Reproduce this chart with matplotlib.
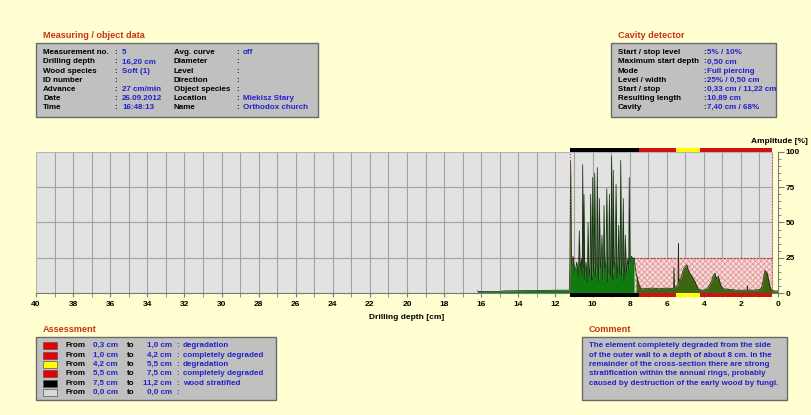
import numpy as np
import matplotlib
matplotlib.use("Agg")
import matplotlib.pyplot as plt
from matplotlib.patches import Rectangle
from matplotlib.ticker import MultipleLocator, FuncFormatter

plt.rcParams['font.family'] = ['Liberation Sans', 'DejaVu Sans']
plt.rcParams['font.weight'] = 'bold'
plt.rcParams['hatch.linewidth'] = 0.7

# ---------------- data ----------------
depth_cm = [16.20, 16.15, 15.00, 14.80, 13.00, 11.80, 11.25,
            11.22, 11.18, 11.14, 11.05, 10.95, 10.85, 10.76, 10.71, 10.67, 10.60,
            10.55, 10.53, 10.50, 10.46, 10.42, 10.35, 10.28, 10.24, 10.20, 10.14,
            10.10, 10.06, 10.03, 9.99, 9.95, 9.91, 9.88, 9.84, 9.78, 9.74,
            9.70, 9.66, 9.63, 9.58, 9.53, 9.49, 9.45, 9.41, 9.38, 9.33,
            9.27, 9.23, 9.18, 9.13, 9.09, 9.04, 9.00, 8.97, 8.93, 8.90,
            8.88, 8.84, 8.78, 8.73, 8.68, 8.63, 8.59, 8.55, 8.51, 8.48,
            8.44, 8.39, 8.34, 8.30, 8.26, 8.23, 8.18, 8.10, 8.05, 8.02,
            7.98, 7.90, 7.82, 7.76, 7.65, 7.50, 7.38, 7.20,
            6.80, 6.40, 6.00, 5.70, 5.63, 5.61, 5.58, 5.45, 5.39, 5.37,
            5.35, 5.20, 5.10, 4.98, 4.92, 4.85, 4.75, 4.65, 4.55, 4.47,
            4.38, 4.29, 4.10, 3.90, 3.76, 3.60, 3.50, 3.40, 3.32, 3.22,
            3.10, 2.95, 2.60, 2.20, 1.80, 1.67, 1.65, 1.63, 1.30, 1.00,
            0.88, 0.80, 0.74, 0.70, 0.64, 0.58, 0.50, 0.44, 0.39, 0.33,
            0.20, 0.00]
amplitude_pct = [1.5, 1.0, 1.0, 1.5, 1.8, 2.0, 2.0,
                 22, 94, 20, 26, 14, 22, 12, 44, 16, 24,
                 12, 91, 18, 70, 10, 22, 8, 50, 18, 12,
                 70, 16, 9, 82, 14, 22, 85, 12, 20, 89,
                 16, 8, 67, 18, 24, 41, 10, 20, 62, 14,
                 24, 74, 8, 18, 70, 12, 20, 97, 16, 10,
                 87, 18, 24, 77, 10, 20, 48, 14, 22, 94,
                 12, 20, 67, 8, 18, 41, 14, 24, 16, 82,
                 22, 26, 24, 25, 14, 6, 3, 3,
                 3.5, 3, 3.5, 3, 4, 18, 4, 5, 6, 35,
                 8, 12, 17, 19, 20, 17, 14, 12, 10, 8,
                 5, 2.5, 2, 2.5, 4, 8, 12, 14, 10, 12,
                 6, 3, 2.5, 2, 2, 2, 5, 2, 2, 2.5,
                 4, 9, 14, 16, 15, 14, 9, 5, 3, 2,
                 1.5, 1.5]

# assessment
assess_from = [0.3, 1.0, 4.2, 5.5, 7.5, 0.0]
assess_to = [1.0, 4.2, 5.5, 7.5, 11.2, 0.0]
assess_desc = ["degradation", "completely degraded", "degradation",
               "completely degraded", "wood stratified", ""]
assess_colors = ["#E80000", "#E80000", "#FFFF00", "#E80000", "#000000", "#D8D8D8"]

# cavity detector
cavity_start = 11.22
cavity_stop = 0.33
cavity_length = 7.40
cavity_level = 25

meas_labels = ["Measurement no.", "Drilling depth", "Wood species", "ID number",
               "Advance", "Date", "Time"]
meas_values = ["5", "16,20 cm", "Soft (1)", "", "27 cm/min", "26.09.2012", "16:48:13"]
obj_labels = ["Avg. curve", "Diameter", "Level", "Direction", "Object species",
              "Location", "Name"]
obj_values = ["off", "", "", "", "", "Miekisz Stary", "Orthodox church"]
cav_labels = ["Start / stop level", "Maximum start depth", "Mode", "Level / width",
              "Start / stop", "Resulting length", "Cavity"]
cav_values = ["5% / 10%", "0,50 cm", "Full piercing", "25% / 0,50 cm",
              "0,33 cm / 11,22 cm", "10,89 cm", "7,40 cm / 68%"]
comment_lines = ["The element completely degraded from the side",
                 "of the outer wall to a depth of about 8 cm. In the",
                 "remainder of the cross-section there are strong",
                 "stratification within the annual rings, probably",
                 "caused by destruction of the early wood by fungi."]

# ---------------- figure ----------------
W, H = 811, 415
BG = "#FFFFD2"
TITLE_C = "#CC3311"
VAL_C = "#2222CC"
FS = 5.8

fig = plt.figure(figsize=(W / 100, H / 100), dpi=100, facecolor=BG)


def px(x, y):
    return (x / W, 1 - y / H)


def box(x0, y0, x1, y1):
    fig.patches.append(Rectangle(px(x0, y1), (x1 - x0) / W, (y1 - y0) / H,
                                 transform=fig.transFigure, facecolor="#C0C0C0",
                                 edgecolor="#6A6A6A", lw=1.0, zorder=0))


def txt(x, y, s, color="black", ha="left", size=FS):
    fig.text(*px(x, y), s, color=color, ha=ha, va="center", fontsize=size,
             fontweight="bold")


# axes
ax = fig.add_axes([36 / W, 1 - 293 / H, (778 - 36) / W, 141 / H])
ax.set_xlim(40, 0)
ax.set_ylim(0, 100)
ax.patch.set_alpha(0)

gray_end = assess_from[0]
ax.add_patch(Rectangle((gray_end, 0), 40 - gray_end, 100, facecolor="#E2E2E2",
                       edgecolor="#B4B4B4", lw=0.8, zorder=0))
ax.vlines(np.arange(1, 40), 0, 100, color="#A2A2A2", lw=0.8, zorder=0.5)
ax.hlines([25, 50, 75], gray_end, 40, color="#A2A2A2", lw=0.8, zorder=0.5)

# cavity hatch
ax.add_patch(Rectangle((cavity_stop, 0), cavity_length, cavity_level,
                       facecolor="#F7DCDC", edgecolor="#E39C9C", hatch="xxxxxx",
                       lw=0, zorder=1))
ax.hlines(cavity_level, cavity_stop, cavity_start, color="#A33A3A", lw=0.8,
          linestyles=(0, (2, 1)), zorder=1.5)

d = np.array(depth_cm)
a = np.array(amplitude_pct)
split = cavity_stop + cavity_length
ax.fill_between(d, 0, a, where=d >= split - 0.05, color="#0F7A0F", lw=0, zorder=2)
ax.fill_between(d, 0, a, where=d <= split, color="#3D6512", lw=0, zorder=2)
ax.plot(d, a, color="#1C2E12", lw=0.55, zorder=3)

ax.vlines([cavity_start, cavity_stop], 0, 100, color="#D24A4A", lw=0.8,
          linestyles=":", zorder=4)

# assessment bars top and bottom
trans = ax.get_xaxis_transform()
for f, t, c in zip(assess_from, assess_to, assess_colors):
    if t - f <= 0:
        continue
    col = "#CC1414" if c == "#E80000" else c
    for yb in (1.0, -0.03):
        ax.add_patch(Rectangle((f, yb), t - f, 0.03, transform=trans,
                               facecolor=col, edgecolor="none", clip_on=False,
                               zorder=5))

# spines / ticks
ax.spines["left"].set_visible(False)
ax.spines["top"].set_visible(False)
ax.spines["bottom"].set_color("#7A7A7A")
ax.spines["right"].set_color("#7A7A7A")
ax.xaxis.set_major_locator(MultipleLocator(2))
ax.xaxis.set_minor_locator(MultipleLocator(1))
ax.xaxis.set_major_formatter(FuncFormatter(lambda v, p: f"{int(round(v))}"))
ax.tick_params(axis="x", which="both", direction="out", length=3,
               color="#7A7A7A", labelsize=6.0, pad=3)
ax.yaxis.tick_right()
ax.set_yticks([0, 25, 50, 75, 100])
ax.yaxis.set_minor_locator(MultipleLocator(5))
ax.tick_params(axis="y", which="major", direction="out", length=4,
               color="#7A7A7A", labelsize=6.0, pad=1.5)
ax.tick_params(axis="y", which="minor", direction="out", length=2,
               color="#7A7A7A")
ax.set_xlabel("Drilling depth [cm]", fontsize=6.0, fontweight="bold", labelpad=4)
txt(808, 141, "Amplitude [%]", ha="right", size=6.0)

# ---------------- measuring box ----------------
txt(43, 36, "Measuring / object data", color=TITLE_C, size=6.6)
box(36, 43, 318, 117)
for i in range(7):
    y = 52.7 + i * 9.17
    txt(43, y, meas_labels[i])
    txt(114, y, ":")
    txt(122, y, meas_values[i], color=VAL_C)
    txt(174, y, obj_labels[i])
    txt(236.5, y, ":")
    txt(243, y, obj_values[i], color=VAL_C)

# ---------------- cavity box ----------------
txt(618, 36, "Cavity detector", color=TITLE_C, size=6.6)
box(611, 43, 776, 117)
for i in range(7):
    y = 52.7 + i * 9.17
    txt(618, y, cav_labels[i])
    txt(703, y, ":")
    txt(707, y, cav_values[i], color=VAL_C)

# ---------------- assessment box ----------------
txt(43, 329, "Assessment", color=TITLE_C, size=6.6)
box(36, 337, 276, 400)
for i in range(len(assess_from)):
    y = 345.7 + i * 9.33
    fig.patches.append(Rectangle(px(42.7, y + 3.5), 14 / W, 7 / H,
                                 transform=fig.transFigure,
                                 facecolor=assess_colors[i], edgecolor="#555555",
                                 lw=0.5))
    txt(65, y, "From")
    txt(92.7, y, f"{assess_from[i]:.1f}".replace(".", ",") + " cm", color=VAL_C)
    txt(126.7, y, "to")
    txt(171.7, y, f"{assess_to[i]:.1f}".replace(".", ",") + " cm", color=VAL_C,
        ha="right")
    txt(176, y, ":", color=VAL_C)
    txt(182.7, y, assess_desc[i], color=VAL_C)

# ---------------- comment box ----------------
txt(589, 329, "Comment", color=TITLE_C, size=6.6)
box(582, 337, 787, 400)
for i, line in enumerate(comment_lines):
    txt(589, 345.7 + i * 9.35, line, color=VAL_C)

fig.savefig("out.png", dpi=100, facecolor=BG)
